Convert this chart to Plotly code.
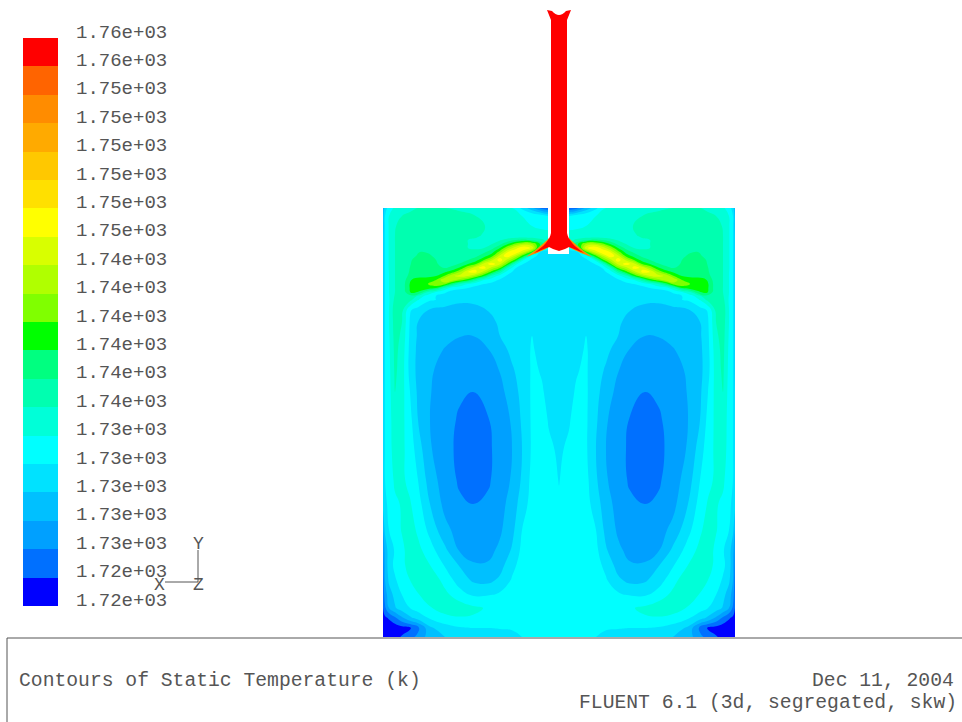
import plotly.graph_objects as go

# Contour levels (K), as printed on the colour key, bottom to top
level_labels = ["1.72e+03", "1.72e+03", "1.73e+03", "1.73e+03", "1.73e+03", "1.73e+03", "1.73e+03",
                "1.74e+03", "1.74e+03", "1.74e+03", "1.74e+03", "1.74e+03", "1.74e+03",
                "1.75e+03", "1.75e+03", "1.75e+03", "1.75e+03", "1.75e+03", "1.75e+03",
                "1.76e+03", "1.76e+03"]
band_colors = ["#0000ff", "#0070ff", "#00a0ff", "#00c0ff", "#00e2ff", "#00ffff", "#00ffd8", "#00ffb0",
               "#00ff80", "#00ff00", "#80ff00", "#b0ff00", "#d8ff00", "#ffff00", "#ffe000", "#ffc800",
               "#ffaa00", "#ff8c00", "#ff6400", "#ff0000"]

# Left half of the symmetric section; values are in contour-level units (0 = lowest level)
x_left = [383, 385, 389, 395, 402, 410, 418, 430, 445, 460, 473, 488, 500, 512, 522, 532, 542, 549, 559]
y_rows = [208, 216, 226, 236, 244, 250, 256, 262, 268, 274, 280, 286, 292, 300, 310, 322, 336, 350, 370,
          392, 420, 450, 480, 504, 530, 550, 565, 580, 595, 608, 618, 628, 637]
field_left = [
    [3, 4.5, 5.5, 6.2, 6.5, 6.8, 7, 7, 7, 6.8, 6.5, 6.2, 6, 6, 4.8, 3.2, 1.5, 1, 1],
    [3.5, 5, 6, 6.7, 7, 7.2, 7.3, 7.4, 7.4, 7.3, 7.1, 6.6, 6.2, 6.1, 6, 5.9, 5.5, 5, 5],
    [3.5, 5, 6.1, 6.9, 7.5, 7.6, 7.7, 7.7, 7.6, 7.5, 7.4, 6.9, 6.3, 6.1, 6.1, 6, 5.8, 5.5, 5.5],
    [3.8, 5, 6.1, 7, 7.5, 7.6, 7.7, 7.7, 7.6, 7.5, 7.2, 6.8, 6.5, 6.4, 6.3, 6.3, 6.4, 6.7, 6.8],
    [3.8, 5, 6.1, 7, 7.4, 7.4, 7.5, 7.5, 7.4, 7.3, 7, 6.8, 6.6, 6.5, 6.5, 6.5, 6.5, 6.5, 6.5],
    [3.8, 5, 6.1, 7, 7.4, 7.5, 7.6, 7.5, 7.4, 7.2, 7, 6.8, 6.6, 6.5, 6.5, 6.5, 6, 5, 5],
    [3.8, 5, 6.1, 7, 7.4, 7.6, 7.7, 7.6, 7.4, 7.2, 7, 6.8, 6.5, 6, 5.5, 5, 4.8, 4.5, 4.5],
    [3.8, 5, 6.1, 7, 7.4, 7.7, 7.8, 7.7, 7.4, 7.2, 7, 6.5, 6, 5, 4.8, 4.6, 4.5, 4.5, 4.5],
    [3.8, 5, 6.1, 7, 7.4, 7.8, 7.9, 7.7, 7.4, 7.2, 7, 6.5, 5.5, 5, 4.6, 4.5, 4.5, 4.5, 4.5],
    [3.8, 5, 6, 7, 7.5, 7.8, 7.9, 7.7, 7.5, 7.3, 7, 6, 5.2, 4.7, 4.5, 4.5, 4.5, 4.5, 4.5],
    [3.8, 5, 6, 7, 7.6, 7.9, 8, 7.7, 7, 6.5, 5.5, 5, 4.8, 4.6, 4.5, 4.5, 4.5, 4.5, 4.5],
    [3.8, 5, 6, 7, 7.7, 8, 8, 7, 5.5, 5, 4.8, 4.7, 4.6, 4.5, 4.5, 4.5, 4.5, 4.5, 4.5],
    [3.8, 5, 6, 7, 7.7, 8, 7.5, 6, 5, 4.8, 4.7, 4.7, 4.6, 4.6, 4.6, 4.6, 4.6, 4.6, 4.6],
    [3.8, 5, 5.9, 7.3, 7.5, 7.3, 6, 5.1, 4.8, 4.3, 4.4, 4.6, 4.6, 4.6, 4.6, 4.6, 4.6, 4.6, 4.6],
    [3.8, 5, 6, 7.6, 7.3, 5.1, 4.6, 3.9, 3.6, 3.4, 3.4, 4.05, 4.6, 4.7, 4.7, 4.7, 4.7, 4.7, 4.7],
    [3.8, 5, 6, 7.5, 7, 4.9, 4, 3.55, 3.25, 3.1, 3.1, 3.6, 4.2, 4.6, 4.8, 4.8, 4.7, 4.7, 4.7],
    [3.8, 5, 5.9, 7.4, 6.8, 4.8, 3.85, 3.5, 3.2, 3.03, 3, 3.4, 4, 4.6, 4.85, 5, 4.8, 4.7, 4.7],
    [3.8, 5, 5.8, 7.3, 6.6, 4.7, 3.75, 3.3, 2.95, 2.65, 2.6, 2.95, 3.5, 4.3, 4.75, 5.05, 4.85, 4.75, 4.72],
    [3.8, 5, 5.7, 7.2, 6.5, 4.65, 3.7, 3.15, 2.6, 2.35, 2.3, 2.55, 3.05, 3.85, 4.5, 5.1, 4.95, 4.8, 4.75],
    [4, 5, 5.6, 7, 6.4, 5, 3.8, 3.05, 2.5, 2.15, 2, 2.25, 2.7, 3.5, 4.3, 5.15, 5.05, 4.85, 4.78],
    [4.2, 5, 5.5, 6.8, 6.3, 5.3, 4, 3, 2.4, 1.85, 1.6, 1.95, 2.5, 3.1, 4.15, 5.15, 5.2, 4.95, 4.82],
    [4.5, 5, 5.5, 6.6, 6.2, 5.6, 4.5, 3.1, 2.4, 1.7, 1.5, 1.8, 2.4, 3, 4, 5.15, 5.35, 5.1, 4.92],
    [4.5, 5, 5.4, 6.2, 6.2, 5.7, 5, 3.5, 2.5, 1.85, 1.6, 1.85, 2.5, 3.1, 4.15, 5.3, 5.55, 5.35, 4.97],
    [4.3, 4.8, 5.2, 5.8, 6.1, 6.1, 5.4, 4, 2.7, 2.15, 2, 2.2, 2.65, 3.4, 4.5, 5.4, 5.65, 5.6, 5.1],
    [3, 4.2, 5, 5.4, 6.1, 6.5, 5.8, 4.7, 3.3, 2.55, 2.4, 2.5, 2.85, 3.7, 5, 5.5, 5.7, 5.8, 5.6],
    [2, 3.3, 4.5, 5.1, 5.7, 6.6, 6.3, 5.4, 4.2, 2.85, 2.6, 2.7, 3.2, 4.1, 5.25, 5.6, 5.8, 5.85, 5.8],
    [1.8, 3.1, 4.6, 5.2, 5.6, 6.6, 6.9, 6, 4.9, 3.9, 3.1, 3.1, 3.6, 4.7, 5.4, 5.7, 5.85, 5.9, 5.9],
    [1.5, 3, 4.2, 4.9, 5.4, 6, 6.8, 6.8, 5.6, 4.5, 3.85, 3.7, 4.2, 5.1, 5.5, 5.7, 5.85, 5.9, 5.9],
    [1.2, 2.5, 3.5, 4.3, 5, 5.4, 5.9, 6.5, 6.3, 5.4, 4.9, 4.95, 5.2, 5.45, 5.6, 5.7, 5.85, 5.9, 5.9],
    [1, 1.8, 3, 3.9, 4.5, 5, 5.4, 5.9, 6.6, 6.6, 6.2, 5.9, 5.7, 5.8, 5.85, 5.9, 5.9, 5.9, 5.9],
    [0.5, 0.8, 1.1, 1.8, 2.8, 3.8, 4.4, 5.1, 5.6, 5.9, 5.9, 5.85, 5.8, 5.85, 5.9, 5.9, 5.9, 5.9, 5.9],
    [0.4, 0.4, 0.4, 0.4, 0.6, 0.85, 1.7, 3.8, 4.6, 4.9, 5, 5, 5.05, 5.1, 5.4, 5.6, 5.8, 5.85, 5.9],
    [0.3, 0.3, 0.4, 0.7, 1.1, 1.6, 2.3, 3.5, 4, 4.4, 4.5, 4.5, 4.6, 4.7, 5, 5.4, 5.7, 5.8, 5.85],
]

# Finer reading of the jet lobe, left half; columns listed one per x position
jet_x = [404, 412, 420, 428, 436, 444, 452, 460, 468, 476, 484, 492, 500, 508, 516, 524, 532, 540, 548]
jet_y = [236, 240, 244, 248, 252, 256, 260, 264, 268, 272, 276, 280, 284, 288, 292, 296, 300]
jet_columns = [
    [7.5, 7.3, 7.3, 7.3, 7.3, 7.3, 7.4, 7.4, 7.5, 7.5, 7.6, 7.7, 7.8, 7.8, 7.7, 7.6, 7.5],
    [7.6, 7.4, 7.4, 7.5, 7.6, 7.8, 8, 8.1, 8.2, 8.3, 8.5, 9.1, 9.5, 9.5, 9.4, 7.8, 7],
    [7.7, 7.4, 7.5, 7.7, 8, 8.2, 8.3, 8.4, 8.4, 8.4, 8.8, 9.3, 9.7, 9.7, 8.8, 6.5, 5.8],
    [7.7, 7.5, 7.5, 7.6, 7.9, 8.2, 8.3, 8.3, 8.3, 8.4, 8.8, 9.5, 10, 9.6, 7, 5.5, 5.2],
    [7.7, 7.5, 7.5, 7.5, 7.6, 7.8, 8, 8.1, 8.1, 8.3, 9, 10, 11, 9, 6, 5, 5],
    [7.6, 7.4, 7.4, 7.4, 7.4, 7.5, 7.6, 7.7, 8, 8.8, 10, 11.8, 10.5, 7, 5.2, 4.7, 4.8],
    [7.5, 7.3, 7.3, 7.3, 7.3, 7.3, 7.4, 7.7, 8.3, 9.5, 11.8, 11.5, 8.5, 5.5, 4.7, 4.5, 4.6],
    [7.5, 7.2, 7.2, 7.2, 7.2, 7.3, 7.5, 8.1, 9.2, 11, 12.4, 10.5, 7, 5.2, 4.6, 4.4, 4.3],
    [7.3, 7, 7, 7, 7.1, 7.4, 8, 9, 11, 13, 12, 9.3, 6, 5, 4.6, 4.4, 4.35],
    [7.1, 6.9, 6.9, 6.9, 7.2, 7.8, 8.6, 10, 12.8, 13.2, 10.8, 7.5, 5.3, 4.7, 4.6, 4.5, 4.45],
    [6.9, 6.8, 6.8, 7, 7.8, 8.6, 10, 12.5, 13.4, 11.5, 9, 6, 5, 4.7, 4.6, 4.6, 4.55],
    [6.7, 6.6, 7, 7.7, 8.6, 9.7, 11.8, 13.5, 11.5, 9.5, 6.8, 5.3, 4.8, 4.7, 4.6, 4.6, 4.6],
    [6.5, 6.9, 7.7, 9, 10.5, 12.4, 13.6, 12.2, 10, 7.5, 5.5, 4.9, 4.7, 4.6, 4.6, 4.6, 4.6],
    [6.4, 7.4, 9, 11, 13, 13.7, 11.5, 9.6, 6.8, 5.3, 4.8, 4.7, 4.6, 4.6, 4.6, 4.6, 4.6],
    [6.3, 8, 10.4, 12.7, 13.8, 11.5, 9.5, 6.2, 5, 4.7, 4.6, 4.6, 4.5, 4.5, 4.5, 4.5, 4.6],
    [6.3, 8.3, 11.5, 14, 12, 9.2, 5.8, 4.9, 4.6, 4.6, 4.5, 4.5, 4.5, 4.5, 4.5, 4.5, 4.6],
    [6.3, 7.8, 11, 12.7, 9.5, 5.5, 4.8, 4.6, 4.5, 4.5, 4.5, 4.5, 4.5, 4.5, 4.5, 4.5, 4.6],
    [6.5, 7.2, 9, 8, 5, 4.6, 4.5, 4.5, 4.5, 4.5, 4.5, 4.5, 4.5, 4.5, 4.5, 4.5, 4.6],
    [6.7, 6.8, 7, 5.5, 4.6, 4.5, 4.5, 4.5, 4.5, 4.5, 4.5, 4.5, 4.5, 4.5, 4.5, 4.5, 4.6],
]

title_left = "Contours of Static Temperature (k)"
date_text = "Dec 11, 2004"
solver_text = "FLUENT 6.1 (3d, segregated, skw)"

FONT = "Liberation Mono"
INK = "#555555"
axis_x = 559

n = len(band_colors)
colorscale = []
for k, c in enumerate(band_colors):
    colorscale += [[k / n, c], [(k + 1) / n, c]]

x_full = x_left + [2 * axis_x - v for v in reversed(x_left[:-1])]
z_full = [row + row[-2::-1] for row in field_left]

contour_style = dict(zmin=0, zmax=n, colorscale=colorscale, showscale=False, autocontour=False,
                     contours=dict(start=0, end=n, size=1, coloring="fill", showlines=False),
                     line=dict(width=0, smoothing=1.3), xaxis="x", yaxis="y", hoverinfo="skip")

fig = go.Figure()
fig.add_trace(go.Contour(x=x_full, y=y_rows, z=z_full, **contour_style))
jet_rows = [[col[i] for col in jet_columns] for i in range(len(jet_y))]
fig.add_trace(go.Contour(x=jet_x, y=jet_y, z=jet_rows, **contour_style))
fig.add_trace(go.Contour(x=[2 * axis_x - v for v in reversed(jet_x)], y=jet_y,
                         z=[row[::-1] for row in jet_rows], **contour_style))
fig.add_trace(go.Heatmap(
    x=[0.5], y=[k + 0.5 for k in range(n)], z=[[k + 0.5] for k in range(n)], zmin=0, zmax=n,
    colorscale=colorscale, showscale=False, xaxis="x2", yaxis="y2", hoverinfo="skip"))

shapes = []
def path_shape(path, fill):
    shapes.append(dict(type="path", path=path, fillcolor=fill, line=dict(width=0), xref="x", yref="y"))

# slot around the nozzle, nozzle and hot streaks
shapes.append(dict(type="rect", x0=548, x1=569, y0=206, y1=254, fillcolor="white", line=dict(width=0), xref="x", yref="y"))
path_shape("M549,238 C543,244 536,250 526,257 C537,253 543,251 549,247 Z", "#ff8c00")
path_shape("M569,238 C575,244 582,250 592,257 C581,253 575,251 569,247 Z", "#ff8c00")
path_shape("M551,233 C550,240 543,247 534,253 C542,250 546,248 549,247 L553,249 L559,251 L565,249 L569,247 "
           "C572,248 576,250 584,253 C575,247 568,240 567,233 Z", "#ff0000")
path_shape("M547,10 L552,11 Q559,19 566,11 L571,10 L567,20 L567,236 L551,236 L551,20 Z", "#ff0000")

# bottom panel rules
shapes.append(dict(type="line", x0=7, x1=962, y0=638, y1=638, line=dict(color=INK, width=1), xref="x", yref="y"))
shapes.append(dict(type="line", x0=7, x1=7, y0=638, y1=722, line=dict(color=INK, width=1), xref="x", yref="y"))
# triad
shapes.append(dict(type="line", x0=198, x1=198, y0=550, y1=582, line=dict(color=INK, width=1), xref="x", yref="y"))
shapes.append(dict(type="line", x0=165, x1=198, y0=582, y1=582, line=dict(color=INK, width=1), xref="x", yref="y"))

def note(x, y, text, anchor="left", size=19.7):
    return dict(x=x, y=y, text=text, showarrow=False, xanchor=anchor, yanchor="middle", xref="x", yref="y",
                font=dict(family=FONT, size=size, color=INK))

annotations = [
    note(17, 681, title_left), note(956, 681, date_text, "right"), note(959, 703, solver_text, "right"),
    note(159, 585, "X", "center", 18), note(198, 544, "Y", "center", 18), note(198, 585, "Z", "center", 18),
]

fig.update_layout(
    width=962, height=722, margin=dict(l=0, r=0, t=0, b=0, autoexpand=False), paper_bgcolor="white", plot_bgcolor="white",
    showlegend=False, shapes=shapes, annotations=annotations,
    xaxis=dict(domain=[0, 1], range=[0, 962], visible=False),
    yaxis=dict(domain=[0, 1], range=[722, 0], visible=False),
    xaxis2=dict(domain=[23 / 962, 58 / 962], range=[0, 1], anchor="y2", visible=False),
    yaxis2=dict(domain=[116 / 722, 684 / 722], range=[0, n], anchor="x2", side="right", showgrid=False, zeroline=False,
                showline=False, ticks="", tickmode="array", tickvals=list(range(n + 1)), ticktext=level_labels,
                ticklabelshift=-7, ticklabelstandoff=17, automargin=False,
                tickfont=dict(family=FONT, size=19, color=INK)),
)
fig.write_html("out.html", config={"displayModeBar": False},
               post_script="document.body.style.margin='0';document.documentElement.style.overflow='hidden';")
